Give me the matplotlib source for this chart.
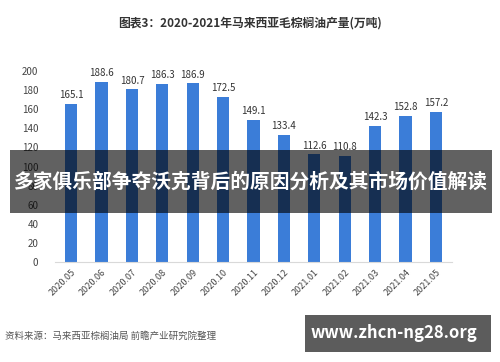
import matplotlib.pyplot as plt
from matplotlib.patches import Rectangle

plt.rcParams['font.family'] = ['Noto Sans CJK SC', 'DejaVu Sans']

months = ['2020.05', '2020.06', '2020.07', '2020.08', '2020.09', '2020.10', '2020.11',
          '2020.12', '2021.01', '2021.02', '2021.03', '2021.04', '2021.05']
output = [165.1, 188.6, 180.7, 186.3, 186.9, 172.5, 149.1, 133.4, 112.6, 110.8, 142.3, 152.8, 157.2]
yticks = [0, 20, 40, 60, 80, 100, 120, 140, 160, 180, 200]

title = '图表3：2020-2021年马来西亚毛棕榈油产量(万吨)'
banner = '多家俱乐部争夺沃克背后的原因分析及其市场价值解读'
source = '资料来源：马来西亚棕榈油局 前瞻产业研究院整理'
site = 'www.zhcn-ng28.org'

fig = plt.figure(figsize=(5, 3.62), dpi=100)
ax = fig.add_axes([0.11, 0.276, 0.794, 0.528])

x = range(len(months))
bars = ax.bar(x, output, width=0.4, color='#3b7dd8')
for xi, v in zip(x, output):
    ax.text(xi, v + 4, f'{v}', ha='center', va='bottom', fontsize=7, color='#333333', clip_on=False)

ax.set_xlim(-0.53, len(months) - 0.47)
ax.set_ylim(0, 200)
ax.set_yticks(yticks)
ax.set_xticks(list(x))
ax.set_xticklabels(months, rotation=45, ha='right', rotation_mode='anchor', fontsize=6.5, color='#444444')
ax.tick_params(axis='y', labelsize=7, labelcolor='#444444', length=0, pad=12)
ax.tick_params(axis='x', length=0, pad=4)
for s in ['top', 'right', 'left']:
    ax.spines[s].set_visible(False)
ax.spines['bottom'].set_color('#d9d9d9')

fig.text(0.5, 0.937, title, ha='center', va='center', fontsize=8.5, fontweight='bold', color='#333333')

# dark banner across the middle
fig.patches.append(Rectangle((0.02, 1 - 213 / 362), 0.964, 63 / 362, transform=fig.transFigure,
                             facecolor='black', alpha=0.62, zorder=5))
fig.text(0.501, 1 - 182 / 362, banner, ha='center', va='center', fontsize=14.2, fontweight='bold',
         color='white', zorder=6)

fig.text(0.01, 1 - 336 / 362, source, ha='left', va='center', fontsize=6.8, color='#555555')

fig.patches.append(Rectangle((0.61, 1 - 352 / 362), 0.372, 37 / 362, transform=fig.transFigure,
                             facecolor='#5c5c5c', zorder=5))
fig.text(0.788, 1 - 333 / 362, site, ha='center', va='center', fontsize=12, fontweight='bold',
         color='white', zorder=6)

fig.savefig('out.png', dpi=100)
